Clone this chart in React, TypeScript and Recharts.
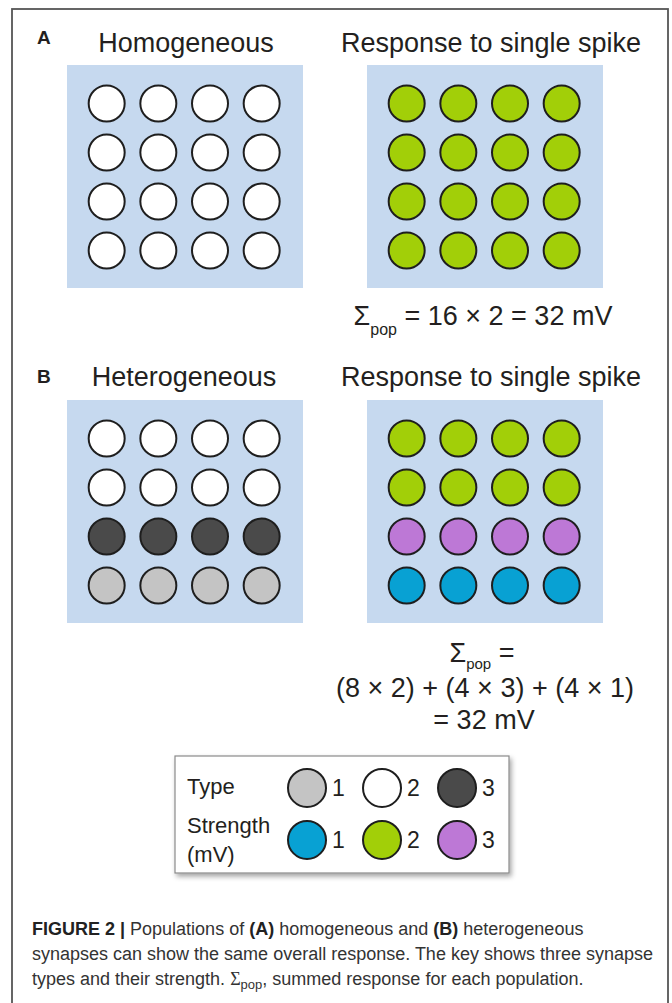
import React from "react";
import { ScatterChart, Scatter, XAxis, YAxis } from "recharts";

// grid positions (4 x 4 synapses per population)
const gridColumns = [0, 1, 2, 3];
const gridRows = [0, 1, 2, 3];

// synapse type / strength (mV) for each row of a population
const homogeneousTypes = [2, 2, 2, 2];
const homogeneousStrengths = [2, 2, 2, 2];
const heterogeneousTypes = [2, 2, 3, 1];
const heterogeneousStrengths = [2, 2, 3, 1];

// key
const legendKeys = [1, 2, 3];
const legendRows = ["type", "strength"];

const TYPE_COLORS: Record<number, string> = {
  1: "#c4c4c4",
  2: "#ffffff",
  3: "#4a4a4a",
};
const STRENGTH_COLORS: Record<number, string> = {
  1: "#08a1d3",
  2: "#a2cf08",
  3: "#bd78d6",
};

const BOX_BLUE = "#c6d9ef";
const OUTLINE = "#1e1e1e";
const TEXT = "#231f20";
const FONT = '"Liberation Sans", Arial, Helvetica, sans-serif';

const BOX_W = 236;
const BOX_H = 223;

const gridCircle = (props: any) => (
  <circle
    cx={props.cx}
    cy={props.cy}
    r={18}
    fill={props.payload.fill}
    stroke={OUTLINE}
    strokeWidth={2}
  />
);

const legendCircle = (props: any) => (
  <g>
    <circle
      cx={props.cx}
      cy={props.cy}
      r={19}
      fill={props.payload.fill}
      stroke={OUTLINE}
      strokeWidth={2}
    />
    <text
      x={props.cx + 25}
      y={props.cy + 8}
      fontSize={23}
      fontFamily={FONT}
      fill={TEXT}
    >
      {props.payload.label}
    </text>
  </g>
);

function SynapseGrid({
  rowKinds,
  palette,
  left,
  top,
}: {
  rowKinds: number[];
  palette: Record<number, string>;
  left: number;
  top: number;
}) {
  const data = gridRows.flatMap((row) =>
    gridColumns.map((col) => ({ col, row, fill: palette[rowKinds[row]] }))
  );
  return (
    <div
      style={{
        position: "absolute",
        left,
        top,
        width: BOX_W,
        height: BOX_H,
        background: BOX_BLUE,
      }}
    >
      <ScatterChart
        width={BOX_W}
        height={BOX_H}
        margin={{ top: 0, right: 0, bottom: 0, left: 0 }}
      >
        <XAxis
          type="number"
          dataKey="col"
          domain={[-0.768, 3.8]}
          allowDataOverflow
          hide
        />
        <YAxis
          type="number"
          dataKey="row"
          domain={[-0.786, 3.765]}
          allowDataOverflow
          reversed
          hide
        />
        <Scatter data={data} shape={gridCircle} isAnimationActive={false} />
      </ScatterChart>
    </div>
  );
}

function Key() {
  const data = legendRows.flatMap((kind, row) =>
    legendKeys.map((k, col) => ({
      col,
      row,
      label: String(k),
      fill: kind === "type" ? TYPE_COLORS[k] : STRENGTH_COLORS[k],
    }))
  );
  return (
    <div style={{ position: "absolute", left: 175, top: 756, width: 334, height: 117 }}>
      <ScatterChart
        width={334}
        height={117}
        margin={{ top: 0, right: 0, bottom: 0, left: 0 }}
      >
        <XAxis
          type="number"
          dataKey="col"
          domain={[-1.76, 2.693]}
          allowDataOverflow
          hide
        />
        <YAxis
          type="number"
          dataKey="row"
          domain={[-0.615, 1.635]}
          allowDataOverflow
          reversed
          hide
        />
        <Scatter data={data} shape={legendCircle} isAnimationActive={false} />
      </ScatterChart>
    </div>
  );
}

export default function App() {
  return (
    <div
      style={{
        position: "absolute",
        left: 0,
        top: 0,
        width: 672,
        height: 1003,
        background: "#fff",
        overflow: "hidden",
        fontFamily: FONT,
      }}
    >
      <svg
        width={672}
        height={1003}
        style={{ position: "absolute", left: 0, top: 0 }}
        fontFamily={FONT}
        fill={TEXT}
      >
        <defs>
          <filter id="keyShadow" x="-10%" y="-10%" width="130%" height="140%">
            <feDropShadow dx="2" dy="3" stdDeviation="2.5" floodColor="#000" floodOpacity="0.35" />
          </filter>
        </defs>
        <rect x={12} y={9} width={656} height={1020} fill="none" stroke="#555" strokeWidth={1.8} />

        {/* panel A */}
        <text x={37} y={44} fontSize={19} fontWeight="bold">A</text>
        <text x={186} y={52} fontSize={27} textAnchor="middle">Homogeneous</text>
        <text x={491} y={52} fontSize={27} textAnchor="middle">Response to single spike</text>
        <text x={483} y={325} fontSize={27} textAnchor="middle">
          <tspan>Σ</tspan>
          <tspan dy={10} fontSize={16}>pop</tspan>
          <tspan dy={-10}> = 16 × 2 = 32 mV</tspan>
        </text>

        {/* panel B */}
        <text x={37} y={383} fontSize={19} fontWeight="bold">B</text>
        <text x={184} y={386} fontSize={27} textAnchor="middle">Heterogeneous</text>
        <text x={491} y={386} fontSize={27} textAnchor="middle">Response to single spike</text>
        <text x={482} y={662} fontSize={27} textAnchor="middle">
          <tspan>Σ</tspan>
          <tspan dy={7} fontSize={15}>pop</tspan>
          <tspan dy={-7}> =</tspan>
        </text>
        <text x={485} y={697} fontSize={27} textAnchor="middle">(8 × 2) + (4 × 3) + (4 × 1)</text>
        <text x={484} y={729} fontSize={27} textAnchor="middle">= 32 mV</text>

        {/* key box */}
        <rect x={175} y={756} width={334} height={117} fill="#fff" stroke="#8a8a8a" strokeWidth={1.2} filter="url(#keyShadow)" />
        <text x={187} y={794} fontSize={22}>Type</text>
        <text x={187} y={833} fontSize={22}>Strength</text>
        <text x={187} y={862} fontSize={22}>(mV)</text>

        {/* caption */}
        <g fontSize={18} fill="#333">
          <text x={32} y={935}>
            <tspan fontWeight="bold" fill="#222">FIGURE 2 | </tspan>
            <tspan>Populations of </tspan>
            <tspan fontWeight="bold" fill="#222">(A)</tspan>
            <tspan> homogeneous and </tspan>
            <tspan fontWeight="bold" fill="#222">(B)</tspan>
            <tspan> heterogeneous</tspan>
          </text>
          <text x={32} y={960}>synapses can show the same overall response. The key shows three synapse</text>
          <text x={32} y={985}>
            <tspan>types and their strength. </tspan>
            <tspan fontFamily='"Liberation Serif", "Times New Roman", serif'>Σ</tspan>
            <tspan dy={4} fontSize={13}>pop</tspan>
            <tspan dy={-4}>, summed response for each population.</tspan>
          </text>
        </g>
      </svg>

      <SynapseGrid rowKinds={homogeneousTypes} palette={TYPE_COLORS} left={67} top={65} />
      <SynapseGrid rowKinds={homogeneousStrengths} palette={STRENGTH_COLORS} left={367} top={65} />
      <SynapseGrid rowKinds={heterogeneousTypes} palette={TYPE_COLORS} left={67} top={400} />
      <SynapseGrid rowKinds={heterogeneousStrengths} palette={STRENGTH_COLORS} left={367} top={400} />
      <Key />
    </div>
  );
}
